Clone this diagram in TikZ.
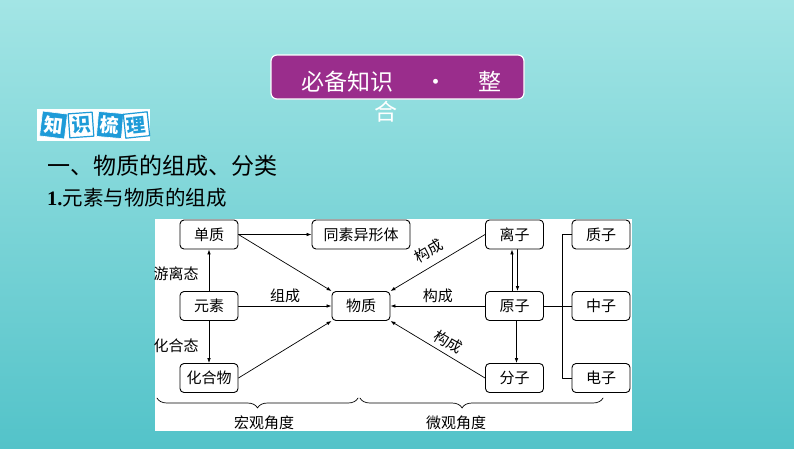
\documentclass[tikz,border=0pt]{standalone}
\usepackage{fontspec}
\newfontfamily\cjk{Noto Sans CJK SC}
\newfontfamily\numfont{Liberation Serif}
\usepackage{xcolor}
\definecolor{bgtop}{HTML}{A3E5E5}
\definecolor{bgbot}{HTML}{53C3C9}
\definecolor{titlepurple}{HTML}{9A2D8C}
\definecolor{badgeblue}{HTML}{1E9BD8}
\usepackage{tikz}
\usetikzlibrary{arrows.meta,calc,positioning,decorations.pathreplacing}
\tikzset{
  >={Latex[length=5pt,width=3.6pt]},
  every picture/.style={line cap=round, line join=round},
  titlebar/.style={draw=white, line width=1.2pt, fill=titlepurple, rounded corners=6pt,
    minimum width=253pt, minimum height=44pt, inner sep=0pt},
  titletext/.style={text=white, font=\cjk\fontsize{23}{23}\selectfont, inner sep=0pt},
  badgeon/.style={fill=badgeblue, draw=white, line width=0.6pt, minimum size=25pt, inner sep=0pt,
    text=white, font=\cjk\bfseries\fontsize{19}{19}\selectfont},
  badgeoff/.style={fill=white, draw=badgeblue, line width=1.2pt, minimum size=24pt, inner sep=0pt,
    text=badgeblue, font=\cjk\bfseries\fontsize{19}{19}\selectfont},
  heading/.style={text=black, inner sep=0pt, anchor=west},
  box/.style={draw=black, line width=0.9pt, rounded corners=4pt, fill=white,
    minimum width=58pt, minimum height=29pt, inner sep=0pt, font=\cjk\fontsize{15}{15}\selectfont},
  lbl/.style={font=\cjk\fontsize{15}{15}\selectfont, inner sep=1pt},
  link/.style={->, line width=0.7pt},
  bracket/.style={line width=0.7pt, decorate, decoration={brace, amplitude=10pt}},
}

\begin{document}
\begin{tikzpicture}[x=1pt, y=-1pt]
\useasboundingbox (0,0) rectangle (794,448);
% background
\shade[top color=bgtop, bottom color=bgbot] (0,0) rectangle (794,448);
% title bar
\node[titlebar] (title) at (397.5,77) {};
\node[titletext] (titlea) at (401.5,82) {必备知识\hspace{31pt}•\hspace{31pt}整};
\node[titletext] (titleb) at (386,112) {合};
% badge
\fill[white] (37,109) rectangle (150,141);
\node[badgeon, rotate=-7] (bzhi) at (53.5,125) {知};
\node[badgeoff, rotate=4] (bshi) at (81,125) {识};
\node[badgeon, rotate=-5] (bshu) at (110,125) {梳};
\node[badgeoff, rotate=6] (bli) at (136.5,125) {理};
% headings
\node[heading, font=\cjk\fontsize{23}{23}\selectfont] (sec) at (47,166) {一、物质的组成、分类};
\node[heading, font=\cjk\fontsize{20.5}{20.5}\selectfont] (subsec) at (47,198) {{\numfont\bfseries 1.}元素与物质的组成};
% diagram panel
\fill[white] (155,219) rectangle (632,431);
\node[box] (danzhi) at (209,234.5) {单质};
\node[box, minimum width=98pt] (tongsu) at (361,234.5) {同素异形体};
\node[box] (yuansu) at (209,306) {元素};
\node[box] (wuzhi) at (361,306) {物质};
\node[box] (huahewu) at (209,378) {化合物};
\node[box] (lizi) at (514.5,234.5) {离子};
\node[box] (yuanzi) at (514.5,306) {原子};
\node[box] (fenzi) at (514.5,378) {分子};
\node[box] (zhizi) at (601,234.5) {质子};
\node[box] (zhongzi) at (601,306) {中子};
\node[box] (dianzi) at (601,378) {电子};
% macro side
\draw[link] (yuansu) -- (danzhi);
\draw[link] (yuansu) -- (huahewu);
\node[lbl] (youli) at (176,274) {游离态};
\node[lbl] (huahe) at (176,346) {化合态};
\draw[link] (danzhi) -- (tongsu);
\draw[link] (danzhi.east) -- (wuzhi.north west);
\draw[link] (yuansu) -- (wuzhi) node[lbl, midway, above=2pt] (zucheng) {组成};
\draw[link] (huahewu.east) -- (wuzhi.south west);
% micro side
\draw[link] (lizi.west) -- (wuzhi.north east);
\node[lbl, rotate=30] (gca) at (429,251) {构成};
\draw[link] (yuanzi) -- (wuzhi) node[lbl, midway, above=2pt] (gcb) {构成};
\draw[link] (fenzi.west) -- (wuzhi.south east);
\node[lbl, rotate=-30] (gcc) at (448,342) {构成};
\draw[link] ([xshift=-2.5pt]yuanzi.north) -- ([xshift=-2.5pt]lizi.south);
\draw[link] ([xshift=3pt]lizi.south) -- ([xshift=3pt]yuanzi.north);
\draw[link] ([xshift=2pt]yuanzi.south) -- ([xshift=2pt]fenzi.north);
\draw[line width=0.9pt] (yuanzi.east) -- (zhongzi.west);
\draw[line width=0.9pt] (zhizi.west) -- ++(-9,0) |- (dianzi.west);
% braces
\draw[bracket] (358,398) -- (157,398);
\draw[bracket, decoration={aspect=0.58}] (603,398) -- (360,398);
\node[lbl] (hongguan) at (264,423) {宏观角度};
\node[lbl] (weiguan) at (456,423) {微观角度};
\end{tikzpicture}
\end{document}
